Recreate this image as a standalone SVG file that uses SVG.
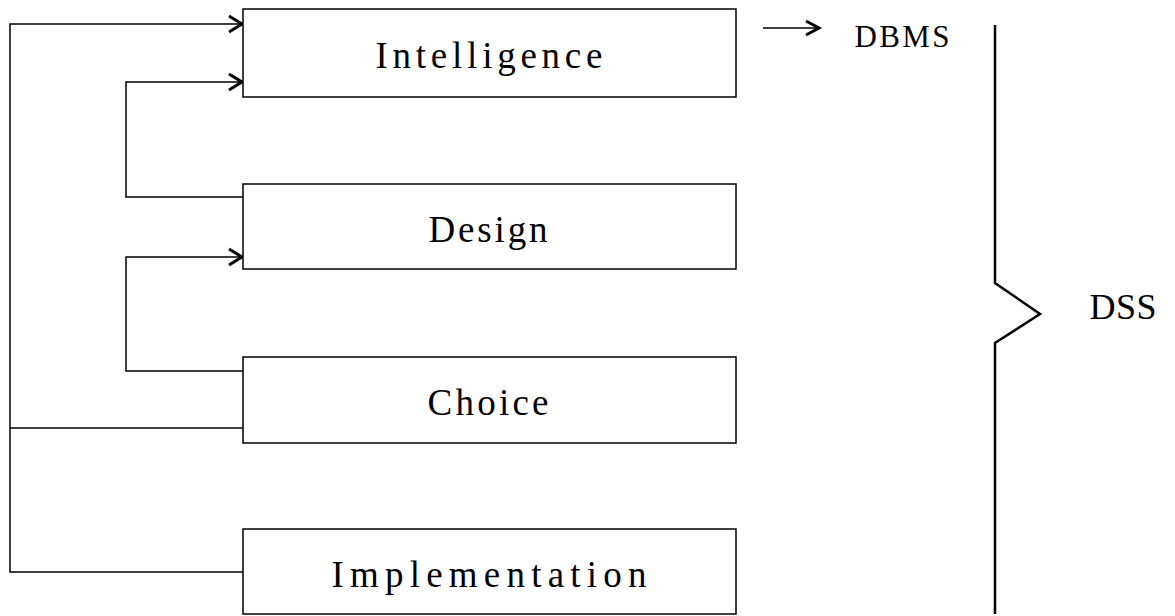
<svg xmlns="http://www.w3.org/2000/svg" width="1175" height="616" viewBox="0 0 1175 616">
<style>
.box{fill:#fff;stroke:#000;stroke-width:1.5}
.lbl{font-family:"Liberation Serif",serif;font-size:37px;fill:#000;text-anchor:middle}
.con{fill:none;stroke:#000;stroke-width:1.5}
.head{fill:none;stroke:#000;stroke-width:3}
</style>
<rect width="1175" height="616" fill="#fff"/>
<g id="connectors">
<path class="con" d="M243,24 H10 V572 H243"/>
<path class="con" d="M10,428 H243"/>
<path class="con" d="M243,82 H126 V197 H243"/>
<path class="con" d="M243,257 H126 V371 H243"/>
<path class="head" d="M229,16 L242,24 L229,32"/>
<path class="head" d="M229,74 L242,82 L229,90"/>
<path class="head" d="M229,249 L242,257 L229,265"/>
<path class="con" d="M763,28 H818"/>
<path class="head" d="M806,21 L819,28 L806,35"/>
</g>
<g id="intelligence"><rect class="box" x="243" y="9" width="493" height="88"/><text class="lbl" x="489" y="68" textLength="227" lengthAdjust="spacing">Intelligence</text></g>
<g id="design"><rect class="box" x="243" y="184" width="493" height="85"/><text class="lbl" x="488" y="242" textLength="119" lengthAdjust="spacing">Design</text></g>
<g id="choice"><rect class="box" x="243" y="357" width="493" height="86"/><text class="lbl" x="488" y="415" textLength="121" lengthAdjust="spacing">Choice</text></g>
<g id="implementation"><rect class="box" x="243" y="529" width="493" height="85"/><text class="lbl" x="489" y="587" textLength="315" lengthAdjust="spacing">Implementation</text></g>
<g id="dbms"><text x="902" y="47" font-family="Liberation Serif,serif" font-size="31" text-anchor="middle" textLength="95" lengthAdjust="spacing">DBMS</text></g>
<g id="dss">
<path d="M995,25 V283 L1040,314 L995,343 V614" fill="none" stroke="#000" stroke-width="2.5"/>
<text x="1123" y="319" font-family="Liberation Serif,serif" font-size="36" text-anchor="middle" textLength="67" lengthAdjust="spacing">DSS</text>
</g>
</svg>
